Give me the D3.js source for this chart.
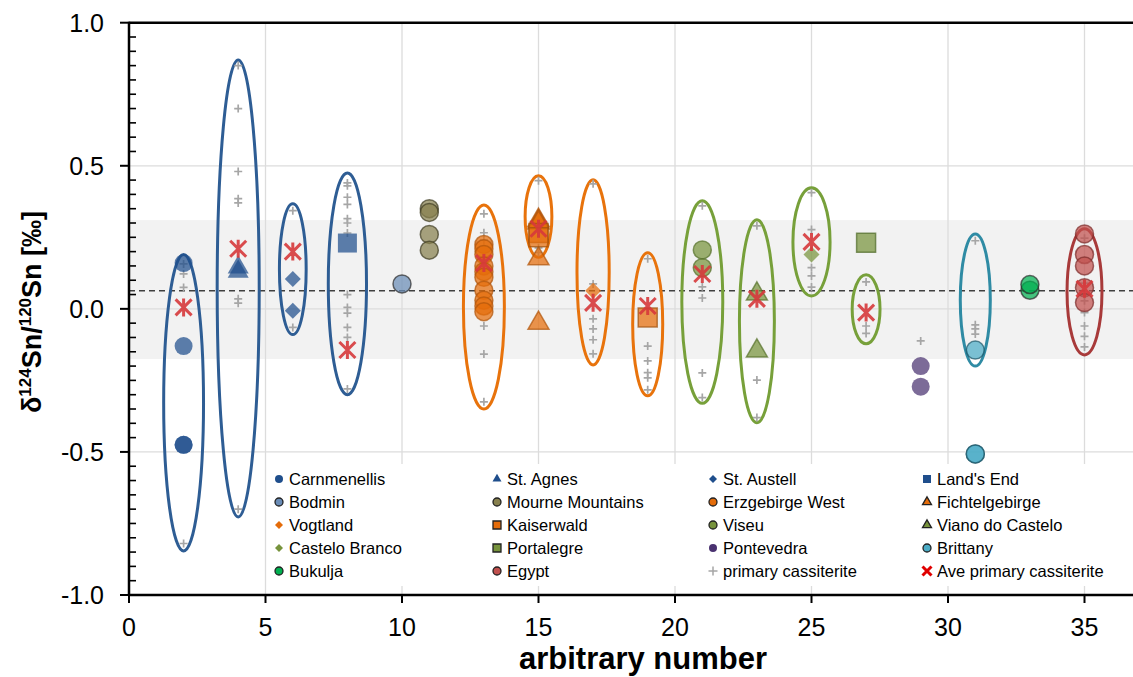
<!DOCTYPE html>
<html>
<head>
<meta charset="utf-8">
<script src="https://cdn.jsdelivr.net/npm/d3@7"></script>
<style>
  body { margin: 0; background: #fff; }
  svg { display: block; font-family: Arial, "Liberation Sans", sans-serif; }
</style>
</head>
<body>
<div id="chart"></div>
<script>
// values (x = arbitrary number, y = d124Sn/120Sn in permil)
const carnmenellis = [[2, 0.16], [2, -0.13], [2, -0.475], [2, -0.475]];
const stAgnes = [[4, 0.145], [4, 0.13]];
const stAustell = [[6, 0.104], [6, -0.007]];
const landsEnd = [[8, 0.23]];
const bodmin = [[10, 0.087]];
const mourne = [[11, 0.35], [11, 0.337], [11, 0.26], [11, 0.205]];
const erzgebirge = [[13, 0.225], [13, 0.21], [13, 0.19], [13, 0.15], [13, 0.13], [13, 0.11], [13, 0.065], [13, 0.03], [13, 0.01], [13, -0.01]];
const fichtelgebirge = [[15, 0.31], [15, 0.305], [15, 0.3], [15, 0.175], [15, -0.05]];
const vogtland = [[17, 0.063]];
const kaiserwald = [[15, 0.265], [15, 0.25], [19, -0.03]];
const viseu = [[21, 0.206], [21, 0.144]];
const vianoCastelo = [[23, 0.052], [23, -0.147]];
const casteloBranco = [[25, 0.19]];
const portalegre = [[27, 0.231]];
const pontevedra = [[29, -0.2], [29, -0.272]];
const brittany = [[31, -0.144], [31, -0.507], [31, -0.507]];
const bukulja = [[33, 0.065], [33, 0.085]];
const egypt = [[35, 0.262], [35, 0.19], [35, 0.15], [35, 0.074], [35, 0.022]];

const primary = [
  [2, 0.157], [2, 0.122], [2, 0.075], [2, -0.82],
  [4, 0.85], [4, 0.7], [4, 0.48], [4, 0.385], [4, 0.37], [4, 0.035], [4, 0.02], [4, -0.7],
  [6, 0.343], [6, -0.065],
  [8, 0.44], [8, 0.43], [8, 0.39], [8, 0.365], [8, 0.315], [8, 0.3], [8, 0.265], [8, 0.05], [8, 0.005], [8, -0.015], [8, -0.065], [8, -0.1], [8, -0.28],
  [13, 0.332], [13, 0.266], [13, 0.24], [13, -0.06], [13, -0.158], [13, -0.325],
  [15, 0.448], [15, 0.213], [15, 0.197],
  [17, 0.437], [17, 0.087], [17, -0.035], [17, -0.07], [17, -0.108], [17, -0.157],
  [19, 0.175], [19, -0.13], [19, -0.182], [19, -0.223], [19, -0.241], [19, -0.283],
  [21, 0.36], [21, 0.077], [21, 0.038], [21, -0.224], [21, -0.31],
  [23, 0.29], [23, -0.249], [23, -0.38],
  [25, 0.406], [25, 0.277], [25, 0.144], [25, 0.115], [25, 0.076],
  [27, 0.094], [27, -0.06], [27, -0.086],
  [29, -0.112],
  [31, 0.238], [31, -0.056], [31, -0.07], [31, -0.088],
  [35, 0.247], [35, 0.09], [35, 0.028], [35, -0.013], [35, -0.06], [35, -0.096], [35, -0.133]
];
const avePrimary = [
  [2, 0.005], [4, 0.21], [6, 0.2], [8, -0.144], [13, 0.16], [15, 0.28], [17, 0.021],
  [19, 0.01], [21, 0.122], [23, 0.035], [25, 0.234], [27, -0.013], [35, 0.07]
];

// grouping ellipses: x, top, bottom, half width (x units), region
const ellipses = [
  [2, 0.19, -0.846, 0.73, "cornwall"], [4, 0.87, -0.727, 0.77, "cornwall"],
  [6, 0.367, -0.09, 0.49, "cornwall"], [8, 0.475, -0.3, 0.7, "cornwall"],
  [13, 0.363, -0.35, 0.75, "erz"], [15, 0.465, 0.18, 0.49, "erz"],
  [17, 0.451, -0.196, 0.59, "erz"], [19, 0.196, -0.304, 0.55, "erz"],
  [21, 0.378, -0.33, 0.75, "iberia"], [23, 0.311, -0.398, 0.64, "iberia"],
  [25, 0.423, 0.045, 0.68, "iberia"], [27, 0.119, -0.122, 0.51, "iberia"],
  [31, 0.262, -0.2, 0.55, "brittany"], [35, 0.28, -0.161, 0.64, "egypt"]
];

const bandRange = [0.31, -0.175];
const meanLine = 0.063;
const xTicks = [0, 5, 10, 15, 20, 25, 30, 35];
const yTicks = [-1, -0.5, 0, 0.5, 1];

const ellipseColor = {
  cornwall: "#2e5d94", erz: "#e8730c", iberia: "#77a03a", brittany: "#2f8ba4", egypt: "#a83a3a"
};

const series = [
  { name: "Carnmenellis", data: carnmenellis, shape: "circle", fill: "#1f4e8c", stroke: null },
  { name: "St. Agnes", data: stAgnes, shape: "triangle", fill: "#1f4e8c", stroke: null },
  { name: "St. Austell", data: stAustell, shape: "diamond", fill: "#1f4e8c", stroke: null },
  { name: "Land's End", data: landsEnd, shape: "square", fill: "#1f4e8c", stroke: null },
  { name: "Bodmin", data: bodmin, shape: "circle", fill: "#6a8cb6", stroke: "#2b2b2b" },
  { name: "Mourne Mountains", data: mourne, shape: "circle", fill: "#87804e", stroke: "#3f3c22" },
  { name: "Erzgebirge West", data: erzgebirge, shape: "circle", fill: "#e46c0a", stroke: "#b0560c" },
  { name: "Fichtelgebirge", data: fichtelgebirge, shape: "triangle", fill: "#e46c0a", stroke: "#b0560c" },
  { name: "Vogtland", data: vogtland, shape: "diamond", fill: "#e46c0a", stroke: null },
  { name: "Kaiserwald", data: kaiserwald, shape: "square", fill: "#e46c0a", stroke: "#a0500c" },
  { name: "Viseu", data: viseu, shape: "circle", fill: "#77933c", stroke: "#56702a" },
  { name: "Viano do Castelo", data: vianoCastelo, shape: "triangle", fill: "#77933c", stroke: "#56702a" },
  { name: "Castelo Branco", data: casteloBranco, shape: "diamond", fill: "#77933c", stroke: null },
  { name: "Portalegre", data: portalegre, shape: "square", fill: "#77933c", stroke: "#4f6a26" },
  { name: "Pontevedra", data: pontevedra, shape: "circle", fill: "#4a3270", stroke: null },
  { name: "Brittany", data: brittany, shape: "circle", fill: "#4bacc6", stroke: "#1d5566" },
  { name: "Bukulja", data: bukulja, shape: "circle", fill: "#00b050", stroke: "#2b2b2b" },
  { name: "Egypt", data: egypt, shape: "circle", fill: "#c0504d", stroke: "#7a2a28" }
];

const legendOrder = [
  "Carnmenellis", "St. Agnes", "St. Austell", "Land's End",
  "Bodmin", "Mourne Mountains", "Erzgebirge West", "Fichtelgebirge",
  "Vogtland", "Kaiserwald", "Viseu", "Viano do Castelo",
  "Castelo Branco", "Portalegre", "Pontevedra", "Brittany",
  "Bukulja", "Egypt", "primary cassiterite", "Ave primary cassiterite"
];

const width = 1133, height = 677;
const x = d3.scaleLinear().domain([0, 37]).range([129, 129 + 37 * 27.3]);
const y = d3.scaleLinear().domain([-1, 1]).range([595, 22.7]);

const svg = d3.select("#chart").append("svg")
  .attr("width", width).attr("height", height);

// shaded band
svg.append("rect")
  .attr("x", x(0)).attr("width", width - x(0))
  .attr("y", y(bandRange[0])).attr("height", y(bandRange[1]) - y(bandRange[0]))
  .attr("fill", "#f2f2f2");

// grid
svg.append("g").selectAll("line").data(xTicks.filter(d => d > 0)).join("line")
  .attr("x1", d => x(d)).attr("x2", d => x(d))
  .attr("y1", y(1)).attr("y2", y(-1))
  .attr("stroke", "#dcdcdc").attr("stroke-width", 1.3);
svg.append("g").selectAll("line").data(yTicks.filter(d => d > -1 && d < 1)).join("line")
  .attr("x1", x(0)).attr("x2", width)
  .attr("y1", d => y(d)).attr("y2", d => y(d))
  .attr("stroke", "#dcdcdc").attr("stroke-width", 1.3);

// mean line
svg.append("line")
  .attr("x1", x(0)).attr("x2", width)
  .attr("y1", y(meanLine)).attr("y2", y(meanLine))
  .attr("stroke", "#404040").attr("stroke-width", 1.5)
  .attr("stroke-dasharray", "6,4");

// legend box (white, over grid)
svg.append("rect")
  .attr("x", 268).attr("y", 464).attr("width", 852).attr("height", 122)
  .attr("fill", "#fff");

// ellipses
svg.append("g").selectAll("ellipse").data(ellipses).join("ellipse")
  .attr("cx", d => x(d[0]))
  .attr("cy", d => y((d[1] + d[2]) / 2))
  .attr("rx", d => x(d[3]) - x(0))
  .attr("ry", d => (y(d[2]) - y(d[1])) / 2)
  .attr("fill", "none")
  .attr("stroke", d => ellipseColor[d[4]])
  .attr("stroke-width", 3);

function shapePath(shape, s) {
  // s = full marker width in px
  if (shape === "circle") return d3.symbol(d3.symbolCircle, Math.PI * (s / 2) ** 2)();
  if (shape === "square") return d3.symbol(d3.symbolSquare, s * s)();
  if (shape === "triangle") return d3.symbol(d3.symbolTriangle, s * s * Math.sqrt(3) / 4)();
  if (shape === "diamond") {
    const h = s / 2;
    return `M0,${-h}L${h},0L0,${h}L${-h},0Z`;
  }
}
const bigSize = { circle: 18, square: 19, triangle: 21, diamond: 16 };
const plusPath = (h) => `M${-h},0H${h}M0,${-h}V${h}`;
const starPath = (h) => `M${-h},${-h}L${h},${h}M${-h},${h}L${h},${-h}M0,${-h - 1}V${h + 1}`;

// primary cassiterite crosses (drawn under the sample markers)
svg.append("g").selectAll("path").data(primary).join("path")
  .attr("transform", d => `translate(${x(d[0])},${y(d[1])})`)
  .attr("d", plusPath(4))
  .attr("stroke", "#a6a6a6").attr("stroke-width", 1.7).attr("fill", "none");

// sample series
series.forEach((s) => {
  svg.append("g").selectAll("path").data(s.data).join("path")
    .attr("transform", d => `translate(${x(d[0])},${y(d[1])})`)
    .attr("d", shapePath(s.shape, bigSize[s.shape]))
    .attr("fill", s.fill)
    .attr("fill-opacity", 0.72)
    .attr("stroke", s.stroke || "none")
    .attr("stroke-opacity", 0.7)
    .attr("stroke-width", 1.5);
});

// averages
svg.append("g").selectAll("path").data(avePrimary).join("path")
  .attr("transform", d => `translate(${x(d[0])},${y(d[1])})`)
  .attr("d", starPath(8))
  .attr("stroke", "#d6393b").attr("stroke-opacity", 0.9)
  .attr("stroke-width", 3).attr("fill", "none");

// axes frame
svg.append("line").attr("x1", x(0)).attr("x2", width).attr("y1", y(1)).attr("y2", y(1))
  .attr("stroke", "#000").attr("stroke-width", 2.5);
svg.append("line").attr("x1", x(0)).attr("x2", width).attr("y1", y(-1)).attr("y2", y(-1))
  .attr("stroke", "#000").attr("stroke-width", 2.5);
svg.append("line").attr("x1", x(0)).attr("x2", x(0)).attr("y1", y(1) - 1).attr("y2", y(-1) + 1)
  .attr("stroke", "#000").attr("stroke-width", 2.5);

// y ticks: major outward, minor inward
const minorY = d3.range(-19, 20).map(i => i * 0.05).filter(v => Math.abs(v * 2 - Math.round(v * 2)) > 1e-6);
svg.append("g").selectAll("line").data(minorY).join("line")
  .attr("x1", x(0)).attr("x2", x(0) + 7)
  .attr("y1", d => y(d)).attr("y2", d => y(d))
  .attr("stroke", "#000").attr("stroke-width", 1.6);
svg.append("g").selectAll("line").data(yTicks).join("line")
  .attr("x1", x(0) - 9).attr("x2", x(0))
  .attr("y1", d => y(d)).attr("y2", d => y(d))
  .attr("stroke", "#000").attr("stroke-width", 2);
svg.append("g").selectAll("text").data(yTicks).join("text")
  .attr("x", 104).attr("y", d => y(d)).attr("dy", "0.36em")
  .attr("text-anchor", "end").attr("font-size", 25)
  .text(d => d.toFixed(1));

// x ticks
svg.append("g").selectAll("line").data(xTicks).join("line")
  .attr("x1", d => x(d)).attr("x2", d => x(d))
  .attr("y1", y(-1)).attr("y2", y(-1) + 8)
  .attr("stroke", "#000").attr("stroke-width", 2);
svg.append("g").selectAll("text").data(xTicks).join("text")
  .attr("x", d => x(d)).attr("y", 636)
  .attr("text-anchor", "middle").attr("font-size", 25)
  .text(d => d);

// axis titles
svg.append("text")
  .attr("x", 643).attr("y", 669)
  .attr("text-anchor", "middle").attr("font-size", 31).attr("font-weight", "bold")
  .text("arbitrary number");

const yt = svg.append("text")
  .attr("transform", "translate(41,312) rotate(-90)")
  .attr("text-anchor", "middle").attr("font-size", 27).attr("font-weight", "bold");
yt.append("tspan").text("δ");
yt.append("tspan").attr("dy", -10).attr("font-size", 17).text("124");
yt.append("tspan").attr("dy", 10).text("Sn/");
yt.append("tspan").attr("dy", -10).attr("font-size", 17).text("120");
yt.append("tspan").attr("dy", 10).text("Sn [‰]");

// legend
const legendCols = [279, 497, 713, 927];
const legendRow0 = 479, legendStep = 23;
const legend = svg.append("g");
legendOrder.forEach((name, i) => {
  const cx = legendCols[i % 4], cy = legendRow0 + Math.floor(i / 4) * legendStep;
  const g = legend.append("g").attr("transform", `translate(${cx},${cy})`);
  if (name === "primary cassiterite") {
    g.append("path").attr("d", plusPath(4.5)).attr("stroke", "#a6a6a6").attr("stroke-width", 1.5);
  } else if (name === "Ave primary cassiterite") {
    g.append("path").attr("d", "M-4.5,-4.5L4.5,4.5M-4.5,4.5L4.5,-4.5").attr("stroke", "#e00000").attr("stroke-width", 3);
  } else {
    const s = series.find(d => d.name === name);
    const small = { circle: 8, square: 8, triangle: 9, diamond: 8 };
    g.append("path").attr("d", shapePath(s.shape, small[s.shape]))
      .attr("fill", s.fill)
      .attr("stroke", s.stroke ? "#222" : "none").attr("stroke-width", 1.3);
  }
  g.append("text").attr("x", 10).attr("dy", "0.36em")
    .attr("font-size", 16.5).text(name);
});
</script>
</body>
</html>
